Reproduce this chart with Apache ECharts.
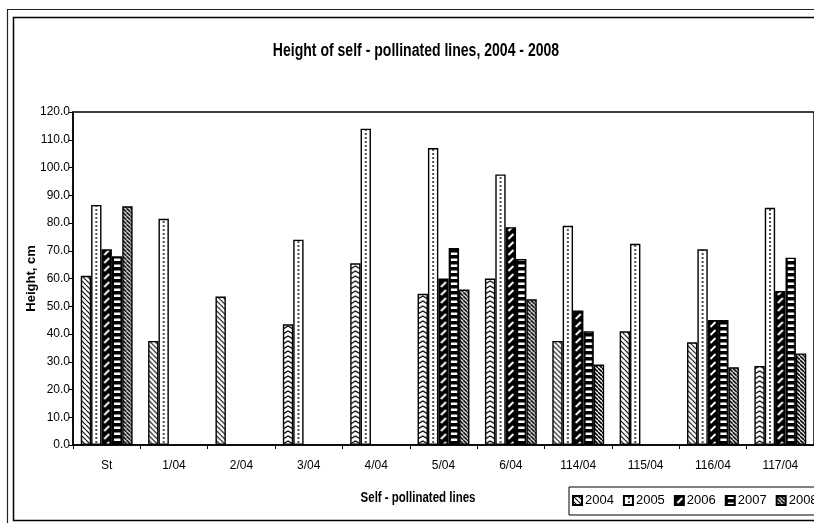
<!DOCTYPE html>
<html>
<head>
<meta charset="utf-8">
<script src="https://cdn.jsdelivr.net/npm/echarts@6/dist/echarts.min.js"></script>
<style>html,body{margin:0;padding:0;background:#fff}#c{width:814px;height:523px}</style>
</head>
<body>
<div id="c"></div>
<script>
const categories = ['St', '1/04', '2/04', '3/04', '4/04', '5/04', '6/04', '114/04', '115/04', '116/04', '117/04'];
const years = ['2004', '2005', '2006', '2007', '2008'];
const h2004 = [61, 37.5, 53.5, 43.5, 65.5, 54.5, 60, 37.5, 41, 37, 28.5];
const h2005 = [86.5, 81.5, null, 74, 114, 107, 97.5, 79, 72.5, 70.5, 85.5];
const h2006 = [70.5, null, null, null, null, 60, 78.5, 48.5, null, 45, 55.5];
const h2007 = [68, null, null, null, null, 71, 67, 41, null, 45, 67.5];
const h2008 = [86, null, null, null, null, 56, 52.5, 29, null, 28, 33];
const yMin = 0, yMax = 120, yStep = 10;
const chevron2004 = ['3/04', '4/04', '5/04', '6/04', '117/04'];
const seriesValues = [h2004, h2005, h2006, h2007, h2008];

const FONT = "'Liberation Sans Narrow', 'Arial Narrow', 'Liberation Sans', Arial, sans-serif";

function tile(w, h, bg, draw) {
  const c = document.createElement('canvas');
  c.width = w; c.height = h;
  const ctx = c.getContext('2d');
  ctx.fillStyle = bg; ctx.fillRect(0, 0, w, h);
  draw(ctx);
  return c;
}
function backslash(s, lw) {
  return tile(s, s, '#fff', ctx => {
    ctx.strokeStyle = '#000'; ctx.lineWidth = lw;
    for (let k = -1; k <= 1; k++) {
      ctx.beginPath(); ctx.moveTo(k * s, 0); ctx.lineTo(k * s + s, s); ctx.stroke();
    }
  });
}
const patDiag = backslash(5, 1.1);
const patDiag8 = backslash(4, 1.6);
const patChevron = tile(10, 5, '#fff', ctx => {
  ctx.strokeStyle = '#000'; ctx.lineWidth = 1.3;
  ctx.beginPath(); ctx.moveTo(0, 4); ctx.lineTo(5, 1); ctx.lineTo(10, 4); ctx.stroke();
});
const patDots = tile(10, 4, '#fff', ctx => {
  ctx.fillStyle = '#000';
  ctx.beginPath(); ctx.arc(5, 2, 0.9, 0, Math.PI * 2); ctx.fill();
});
const patSlash = tile(10, 8, '#000', ctx => {
  ctx.strokeStyle = '#fff'; ctx.lineWidth = 2;
  ctx.beginPath(); ctx.moveTo(2.5, 7); ctx.lineTo(7.5, 2); ctx.stroke();
});
const patStripe = tile(10, 6, '#000', ctx => {
  ctx.fillStyle = '#fff'; ctx.fillRect(2, 0.5, 6.5, 2.5);
});

function patternFor(si, ci, offX) {
  let img;
  if (si === 0) img = chevron2004.indexOf(categories[ci]) >= 0 ? patChevron : patDiag;
  else if (si === 1) img = patDots;
  else if (si === 2) img = patSlash;
  else if (si === 3) img = patStripe;
  else img = patDiag8;
  return { image: img, repeat: 'repeat', x: offX || 0, y: 0 };
}
const seriesPattern = [patDiag, patDots, patSlash, patStripe, patDiag8];

const chart = echarts.init(document.getElementById('c'), null, { renderer: 'canvas' });

function buildSeries(layouts) {
  return years.map((y, si) => ({
    name: y,
    type: 'bar',
    barGap: '0%',
    barCategoryGap: '23%',
    itemStyle: {
      color: { image: seriesPattern[si], repeat: 'repeat' },
      borderColor: '#000',
      borderWidth: 1.4
    },
    data: seriesValues[si].map((v, ci) => {
      const l = layouts ? layouts[si][ci] : null;
      const off = l ? l.x + (l.width - 10) / 2 : 0;
      return { value: v, itemStyle: { color: patternFor(si, ci, off) } };
    })
  }));
}

const option = {
  animation: false,
  backgroundColor: '#fff',
  grid: { left: 73, top: 112, right: -5, bottom: 78, show: true, borderColor: '#000', borderWidth: 1.5, backgroundColor: 'transparent' },
  legend: {
    data: years,
    left: 569, top: 487,
    width: 320,
    orient: 'horizontal',
    icon: 'rect',
    itemWidth: 9, itemHeight: 9, itemGap: 9,
    padding: [7, 4, 8, 3],
    borderColor: '#000', borderWidth: 1,
    textStyle: { fontFamily: FONT, fontSize: 13, color: '#000', padding: [0, 0, 0, -2] }
  },
  xAxis: {
    type: 'category',
    data: categories,
    axisLine: { lineStyle: { color: '#000', width: 1.5 } },
    axisTick: { show: true, alignWithLabel: false, length: 4, lineStyle: { color: '#000' } },
    axisLabel: { fontFamily: FONT, fontSize: 12, color: '#000', margin: 15 }
  },
  yAxis: {
    type: 'value',
    min: yMin, max: yMax, interval: yStep,
    name: 'Height, cm',
    nameLocation: 'middle',
    nameGap: 35,
    nameMoveOverlap: false,
    nameRotate: 90,
    nameTextStyle: { fontFamily: FONT, fontSize: 13, fontWeight: 'bold', color: '#000' },
    axisLine: { show: true, lineStyle: { color: '#000', width: 1.5 } },
    axisTick: { show: true, length: 4, lineStyle: { color: '#000' } },
    splitLine: { show: false },
    axisLabel: { fontFamily: FONT, fontSize: 12, color: '#000', margin: 3, formatter: v => v.toFixed(1) }
  },
  graphic: [
    { type: 'rect', shape: { x: 7.5, y: 9.5, width: 830, height: 530 }, style: { fill: null, stroke: '#222', lineWidth: 1.2 }, silent: true },
    { type: 'rect', shape: { x: 13.5, y: 17.5, width: 830, height: 503 }, style: { fill: null, stroke: '#000', lineWidth: 1.5 }, silent: true },
    { type: 'text', x: 416, y: 51, scaleX: 0.78, style: { text: 'Height of self - pollinated lines, 2004 - 2008', font: 'bold 18px ' + FONT, fill: '#000', textAlign: 'center', textVerticalAlign: 'middle' }, silent: true },
    { type: 'text', x: 418, y: 498, scaleX: 0.82, style: { text: 'Self - pollinated lines', font: 'bold 14px ' + FONT, fill: '#000', textAlign: 'center', textVerticalAlign: 'middle' }, silent: true }
  ],
  series: buildSeries(null)
};
chart.setOption(option);

try {
  const layouts = years.map((y, si) => {
    const data = chart.getModel().getSeriesByIndex(si).getData();
    return categories.map((c, ci) => data.getItemLayout(ci));
  });
  chart.setOption({ series: buildSeries(layouts) });
} catch (e) { console.error(e); }
</script>
</body>
</html>
